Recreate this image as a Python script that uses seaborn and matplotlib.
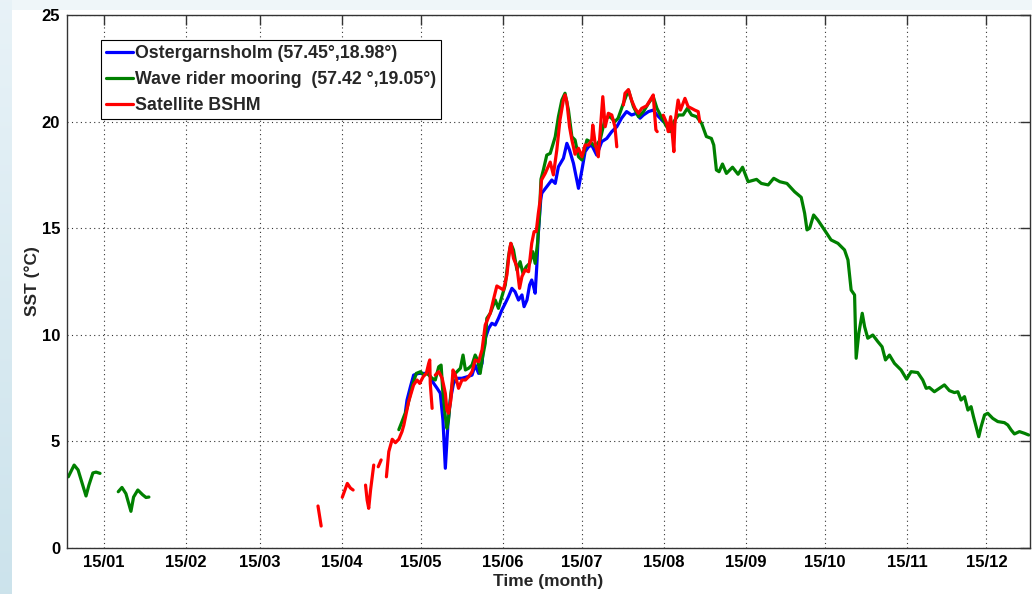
import numpy as np
import pandas as pd
import matplotlib
matplotlib.use("Agg")
import matplotlib.pyplot as plt
import seaborn as sns
from matplotlib.lines import Line2D

# ---- data (day of year, sea surface temperature in degC); NaN marks a gap ----
nan = np.nan

ost_day = [129.1, 129.7, 131.0, 132.2, 134.1, 136.0, 137.9, 139.8, 141.1, 142.3,
           143.3, 144.2, 145.2, 146.1, 147.3, 148.6, 150.5, 152.4, 154.3, 155.5,
           156.8, 158.1, 158.7, 160.6, 161.8, 163.1, 164.3, 165.6, 166.9, 168.1,
           169.4, 170.6, 171.9, 173.2, 174.0, 175.1, 176.1, 176.9, 177.6, 178.2,
           178.8, 179.4, 180.3, 180.7, 182.6, 184.5, 185.8, 187.0, 188.9, 190.2,
           191.2, 192.7, 194.6, 195.9, 197.1, 198.4, 199.6, 201.5, 203.4, 205.3,
           207.2, 209.1, 210.9, 212.8, 214.7, 216.6, 217.9, 219.2, 221.1, 222.9,
           224.3, 225.5, 226.7]
ost_sst = [6.39, 6.94, 7.57, 8.11, 8.19, 8.19, 8.19, 7.72, 7.49, 7.26,
           6.00, 3.74, 5.85, 6.94, 7.72, 7.96, 7.96, 8.03, 8.11, 8.58,
           8.19, 8.66, 9.60, 10.30, 10.54, 10.46, 10.77, 11.16, 11.48, 11.79,
           12.18, 12.02, 11.63, 11.87, 11.32, 11.63, 12.34, 12.57, 12.26, 11.95,
           13.19, 14.76, 16.32, 16.64, 16.95, 17.26, 17.10, 17.88, 18.28, 18.98,
           18.67, 18.04, 16.87, 17.73, 18.59, 18.82, 18.90, 18.43, 19.06, 19.21,
           19.53, 19.76, 20.16, 20.47, 20.31, 20.39, 20.16, 20.31, 20.47, 20.54,
           20.31, 20.16, 20.00]

wave_day = [1.5, 3.7, 5.2, 6.7, 8.2, 9.3, 10.8, 12.0, 13.5, nan,
            20.4, 21.8, 23.3, 25.2, 26.2, 27.8, 29.6, 30.9, 32.0, nan,
            126.6, 127.8, 129.7, 131.6, 133.2, 134.8, 136.0, 137.3, 139.2, 140.4,
            141.7, 142.6, 143.2, 144.2, 144.8, 145.4, 146.3, 147.3, 148.6, 149.9,
            150.9, 151.8, 153.0, 154.3, 155.5, 156.4, 157.4, 158.1, 159.3, 159.9,
            161.2, 163.1, 164.3, 165.6, 166.9, 168.1, 169.0, 170.0, 171.3, 172.5,
            173.6, 174.8, 176.1, 177.3, 178.2, 179.1, 179.8, 180.4, 181.3, 182.6,
            183.9, 185.8, 187.0, 188.3, 189.5, 190.8, 192.1, 193.3, 194.6, 195.9,
            197.8, 199.0, 200.9, 202.8, 204.7, 206.5, 208.4, 209.6, 211.6, 213.5,
            215.4, 217.3, 219.2, 221.1, 222.9, 224.3, 226.2, 228.0, 229.3, 230.7,
            232.4, 234.2, 235.8, 237.4, 239.3, 241.2, 243.0, 244.9, 245.8, 246.8,
            247.8, 249.1, 250.6, 252.9, 255.0, 256.7, 258.8, 262.0, 263.8, 266.4,
            268.5, 270.8, 273.5, 276.4, 278.9, 280.2, 281.1, 282.1, 283.6, 285.2,
            287.7, 290.2, 292.8, 295.3, 296.6, 297.8, 299.1, 299.7, 300.7, 302.0,
            302.9, 304.1, 306.0, 307.9, 309.5, 310.8, 312.3, 314.2, 316.7, 318.8,
            320.5, 323.0, 324.9, 326.2, 327.4, 329.3, 331.2, 333.1, 335.0, 336.9,
            338.2, 339.4, 340.7, 342.0, 343.2, 344.1, 345.1, 346.1, 347.0, 348.3,
            349.5, 351.4, 353.3, 355.8, 357.1, 358.4, 359.6, 361.5, 363.4, 365.0]
wave_sst = [3.34, 3.89, 3.66, 3.05, 2.44, 2.95, 3.52, 3.56, 3.50, nan,
            2.64, 2.84, 2.55, 1.72, 2.39, 2.72, 2.50, 2.37, 2.39, nan,
            5.55, 5.93, 6.55, 7.57, 8.19, 8.27, 8.11, 8.19, 7.96, 7.88,
            8.50, 8.58, 7.41, 6.16, 5.61, 6.00, 7.26, 8.11, 8.27, 8.43,
            9.05, 8.35, 8.43, 8.58, 9.05, 8.82, 8.19, 8.82, 9.60, 10.77,
            11.01, 11.63, 11.24, 11.79, 12.34, 13.66, 14.29, 13.98, 13.04, 13.43,
            12.88, 13.19, 13.35, 13.90, 13.35, 14.29, 15.54, 17.30, 17.73, 18.43,
            18.51, 19.29, 20.23, 21.01, 21.33, 20.54, 19.29, 19.14, 18.35, 18.20,
            19.14, 19.06, 18.82, 19.14, 20.16, 20.23, 20.00, 20.16, 20.86, 21.48,
            20.70, 20.23, 20.47, 20.86, 21.17, 20.62, 20.16, 19.76, 19.53, 20.00,
            20.31, 20.31, 20.62, 20.31, 20.23, 19.92, 19.30, 19.21, 18.90, 17.73,
            17.65, 18.01, 17.57, 17.86, 17.53, 17.86, 17.18, 17.29, 17.10, 17.03,
            17.34, 17.18, 17.10, 16.71, 16.45, 15.70, 14.92, 15.00, 15.62, 15.38,
            14.92, 14.45, 14.29, 13.98, 13.51, 12.10, 11.87, 8.90, 10.07, 11.01,
            10.38, 9.84, 9.99, 9.68, 9.44, 8.82, 9.05, 8.66, 8.35, 7.92,
            8.27, 8.23, 7.88, 7.49, 7.53, 7.33, 7.49, 7.65, 7.38, 7.29,
            7.33, 6.94, 7.10, 6.47, 6.63, 6.16, 5.69, 5.22, 5.69, 6.24,
            6.32, 6.08, 5.93, 5.88, 5.77, 5.53, 5.35, 5.46, 5.38, 5.30]

sat_day = [96.0, 97.2, nan,
           105.2, 107.1, 108.3, 109.3, nan,
           114.0, 114.6, 115.2, 115.9, 117.1, nan,
           118.8, 119.9, nan,
           121.9, 122.8, 124.1, 125.3, 126.6, 127.8, 128.5, 130.3, 132.2, 133.5,
           134.5, 135.8, 137.0, 137.9, 138.3, 138.5, 139.2, nan,
           140.4, 141.7, 143.0, 144.2, 144.8, 145.4, 146.3, 147.1, 148.0, 149.2,
           150.5, 151.8, 153.0, 154.3, 155.5, 156.8, 158.1, 159.3, 161.2, 162.7,
           163.7, 165.2, 166.2, 167.5, 168.5, 169.0, 170.0, 171.3, 172.3, 173.2,
           174.4, 175.7, 176.9, 177.8, 178.6, 179.4, 180.1, 180.6, 182.0, 183.9,
           185.1, 186.4, 187.6, 188.9, 189.5, 190.2, 191.2, 192.1, 193.3, 194.6,
           195.9, 197.1, 198.4, 199.6, 200.0, 200.9, 202.1, 203.8, 204.7, 205.9,
           207.2, 208.4, 209.1, nan,
           211.6, 212.2, 213.5, 214.7, 216.0, 217.3, 218.5, 220.4, 222.3, 222.9,
           223.5, 223.9, 224.4, nan,
           226.7, 228.0, 228.6, 229.5, 230.2, 230.7, 231.1, 232.3, 233.2, 234.9,
           236.1, 237.4, 238.6, 239.9, 240.5]
sat_sst = [1.97, 1.03, nan,
           2.38, 3.03, 2.81, 2.72, nan,
           2.95, 2.25, 1.86, 2.72, 3.89, nan,
           3.81, 4.13, nan,
           3.34, 4.52, 5.10, 4.94, 5.10, 5.46, 5.77, 6.86, 7.65, 7.88,
           7.72, 8.03, 8.19, 8.66, 8.82, 7.72, 6.55, nan,
           8.11, 8.27, 7.96, 7.26, 6.47, 6.32, 6.94, 8.35, 8.11, 7.49,
           7.88, 7.88, 8.03, 8.27, 8.82, 8.74, 9.30, 10.46, 11.01, 11.79,
           12.29, 12.18, 12.10, 12.80, 13.98, 14.29, 13.59, 13.19, 12.18, 12.73,
           13.04, 12.96, 14.29, 14.84, 14.84, 15.70, 16.32, 17.26, 17.57, 18.10,
           17.50, 18.67, 20.08, 21.01, 21.25, 20.93, 19.76, 19.14, 18.47, 18.75,
           18.35, 18.90, 18.90, 19.14, 19.84, 18.98, 18.35, 21.17, 19.76, 20.39,
           20.31, 19.76, 18.82, nan,
           20.78, 21.33, 21.50, 21.00, 20.62, 20.39, 20.62, 20.74, 21.13, 21.25,
           20.23, 19.61, 19.53, nan,
           20.30, 19.92, 19.53, 20.23, 19.29, 18.59, 19.92, 21.01, 20.54, 21.09,
           20.70, 20.62, 20.54, 20.47, 20.00]

series_names = ["Ostergarnsholm (57.45\u00b0,18.98\u00b0)",
                "Wave rider mooring  (57.42 \u00b0,19.05\u00b0)",
                "Satellite BSHM"]
series_colors = ["#0000ff", "#008000", "#ff0000"]

tick_days = [15, 46, 74, 105, 135, 166, 196, 227, 258, 288, 319, 349]
tick_labels = ["15/01", "15/02", "15/03", "15/04", "15/05", "15/06",
               "15/07", "15/08", "15/09", "15/10", "15/11", "15/12"]
y_ticks = [0, 5, 10, 15, 20, 25]


def to_frame(name, days, vals):
    d = np.asarray(days, dtype=float)
    v = np.asarray(vals, dtype=float)
    seg = np.cumsum(np.isnan(v))
    keep = ~np.isnan(v)
    return pd.DataFrame({"series": name, "seg": seg[keep],
                         "day": d[keep], "sst": v[keep]})


df = pd.concat([to_frame(series_names[0], ost_day, ost_sst),
                to_frame(series_names[1], wave_day, wave_sst),
                to_frame(series_names[2], sat_day, sat_sst)],
               ignore_index=True)

sns.set_theme(style="white")
plt.rcParams["font.family"] = ["Liberation Sans", "DejaVu Sans"]
plt.rcParams["font.weight"] = "bold"

W, H = 1032, 594
fig = plt.figure(figsize=(W / 100, H / 100), dpi=100)
fig.patch.set_facecolor("white")

# soft bluish frame along the top and left edges of the window
bg = fig.add_axes([0, 0, 1, 1], zorder=-10)
img = np.ones((H, W, 3))
img[:10, :, :] = [0.94, 0.965, 0.98]
top_c = np.array([0.91, 0.95, 0.97])
bot_c = np.array([0.80, 0.89, 0.925])
t = np.linspace(0, 1, H)[:, None]
img[:, :12, :] = (top_c * (1 - t) + bot_c * t)[:, None, :]
bg.imshow(img, aspect="auto", extent=[0, 1, 0, 1])
bg.set_axis_off()

ax = fig.add_axes([67 / W, 46 / H, 963 / W, 533 / H])
ax.set_facecolor("white")

sns.lineplot(data=df, x="day", y="sst", hue="series", units="seg",
             estimator=None, sort=False, hue_order=series_names,
             palette=dict(zip(series_names, series_colors)),
             linewidth=2.3, legend=False, ax=ax)

ax.set_xlim(1, 365.5)
ax.set_ylim(0, 25)
ax.set_xticks(tick_days, tick_labels)
ax.set_yticks(y_ticks, [str(v) for v in y_ticks])

ax.grid(True, linestyle=(0, (1, 3)), color="#333333", linewidth=0.8)
ax.tick_params(direction="in", length=7, width=1, top=True, right=True,
               color="#333333", labelcolor="black", labelsize=12, pad=5)
for lab in ax.get_xticklabels() + ax.get_yticklabels():
    lab.set_fontweight("bold")
for sp in ax.spines.values():
    sp.set_color("#333333")
    sp.set_linewidth(1.0)

ax.set_xlabel("Time (month)", fontsize=12.5, fontweight="bold")
ax.set_ylabel("SST (\u00b0C)", fontsize=12.5, fontweight="bold")
ax.xaxis.set_label_coords(0.5, -0.049)
ax.yaxis.set_label_coords(-0.028, 0.5)

handles = [Line2D([], [], color=c, linewidth=2.3) for c in series_colors]
leg = ax.legend(handles, series_names, loc="upper left",
                bbox_to_anchor=(0.0353, 0.953), borderaxespad=0,
                frameon=True, fancybox=False, framealpha=1,
                edgecolor="black", handlelength=1.5, handletextpad=0.1,
                borderpad=0.3, labelspacing=0.5,
                prop={"weight": "bold", "size": 12.8})
leg.get_frame().set_linewidth(0.8)

fig.savefig("out.png", dpi=100)
